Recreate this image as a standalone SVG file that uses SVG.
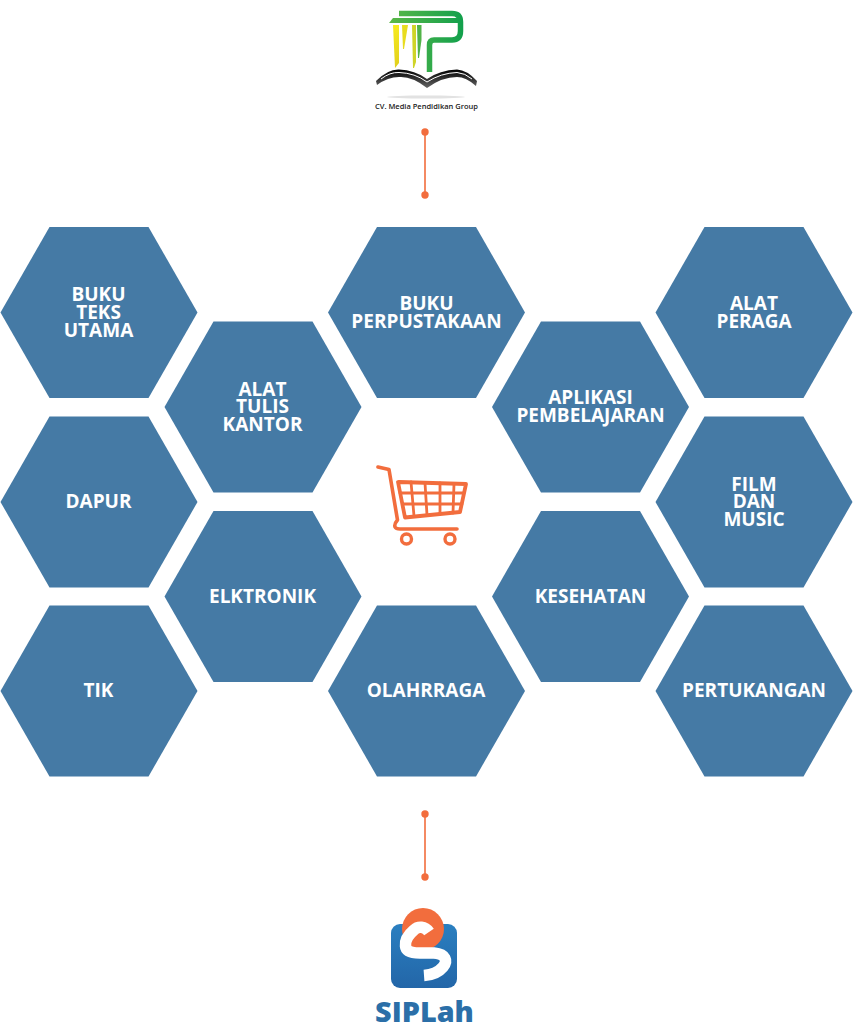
<svg xmlns="http://www.w3.org/2000/svg" width="853" height="1024" viewBox="0 0 853 1024">
<style>
.hex{fill:#457aa5}
.t{font-family:"Open Sans",sans-serif;font-weight:700;font-size:19px;fill:#fff;text-anchor:middle}
.c{stroke:#f26d3d;stroke-width:1.6;fill:#f26d3d}
.o{fill:none;stroke:#f26d3d;stroke-linecap:round;stroke-linejoin:round}
</style>
<defs>
<polygon id="h" points="-98.500,0 -49.500,-85.500 49.500,-85.500 98.500,0 49.500,85.500 -49.500,85.500"/>
<linearGradient id="bl" x1="0" y1="0" x2="0" y2="1"><stop offset="0" stop-color="#2a7fc0"/><stop offset="1" stop-color="#2366a8"/></linearGradient>
<linearGradient id="yl" x1="0" y1="0" x2="0" y2="1"><stop offset="0" stop-color="#f7ea1e"/><stop offset="1" stop-color="#e0cf1c"/></linearGradient>
<linearGradient id="gr" gradientUnits="userSpaceOnUse" x1="389" y1="0" x2="463" y2="0"><stop offset="0" stop-color="#5cb848"/><stop offset="1" stop-color="#12a04c"/></linearGradient>
<linearGradient id="bk" x1="0" y1="0" x2="0" y2="1"><stop offset="0" stop-color="#000"/><stop offset="1" stop-color="#666"/></linearGradient>
</defs>
<g id="logo-media">
<path d="M399 13.500 H452 Q460.500 13.500 460.500 22 V31 Q460.500 40 452 40 H434 Q429.500 40 429.500 45 V72" fill="none" stroke="url(#gr)" stroke-width="5.500"/>
<polygon points="389,23 393,18 458,18 458,23" fill="url(#gr)"/>
<path d="M393 25 H399 V63 L395 68 Z" fill="url(#yl)"/>
<path d="M402 25 H408 L404 49 H403 Z" fill="#e8dc1f"/>
<path d="M412 25 H416 V62 L414 68 H413 Z" fill="#cfd428"/>
<path d="M417 25 H421.500 V40 L419 58 H418 Z" fill="#52b348"/>
<path d="M376 81 Q388 69 399 69.500 Q415 70 427 79 Q440 70 457 69.500 Q467 70 477 81 L476 86 Q466 77 457 77 Q442 77 427 88 Q412 76 399 77 Q388 77 377 85 Z" fill="url(#bk)"/>
<path d="M381 79 Q390 72 399 72.500 Q415 73 427 82 Q441 73 457 72.500 Q465 73 472 79" fill="none" stroke="#fff" stroke-width="1"/>
<ellipse cx="426" cy="97" rx="39" ry="1.500" fill="#e2e2e2"/>
<text x="426.500" y="108.500" font-family="'Open Sans',sans-serif" font-size="7.500" font-weight="600" fill="#222" text-anchor="middle">CV. Media Pendidikan Group</text>
</g>
<g id="connectors">
<line class="c" x1="425" y1="132" x2="425" y2="195"/><circle cx="425" cy="132" r="3.700" fill="#f26d3d"/><circle cx="425" cy="195" r="3.700" fill="#f26d3d"/>
<line class="c" x1="425" y1="814" x2="425" y2="877"/><circle cx="425" cy="814" r="3.700" fill="#f26d3d"/><circle cx="425" cy="877" r="3.700" fill="#f26d3d"/>
</g>
<g id="n1"><use href="#h" class="hex" x="99" y="312.500"/><text class="t" x="98.500" y="300.500">BUKU</text><text class="t" x="98.500" y="318.500">TEKS</text><text class="t" x="98.500" y="336.500">UTAMA</text></g>
<g id="n2"><use href="#h" class="hex" x="263" y="407"/><text class="t" x="262.500" y="395.500">ALAT</text><text class="t" x="262.500" y="413">TULIS</text><text class="t" x="262.500" y="431">KANTOR</text></g>
<g id="n3"><use href="#h" class="hex" x="426.500" y="312.500"/><text class="t" x="426.500" y="309.500">BUKU</text><text class="t" x="426.500" y="327.500">PERPUSTAKAAN</text></g>
<g id="n4"><use href="#h" class="hex" x="590.500" y="407"/><text class="t" x="590.500" y="404">APLIKASI</text><text class="t" x="590.500" y="422">PEMBELAJARAN</text></g>
<g id="n5"><use href="#h" class="hex" x="754" y="312.500"/><text class="t" x="754" y="309.500">ALAT</text><text class="t" x="754" y="327.500">PERAGA</text></g>
<g id="n6"><use href="#h" class="hex" x="99" y="502"/><text class="t" x="98.500" y="508">DAPUR</text></g>
<g id="n7"><use href="#h" class="hex" x="263" y="596.500"/><text class="t" x="262.500" y="602.500">ELKTRONIK</text></g>
<g id="n8"><use href="#h" class="hex" x="590.500" y="596.500"/><text class="t" x="590.500" y="602.500">KESEHATAN</text></g>
<g id="n9"><use href="#h" class="hex" x="754" y="502"/><text class="t" x="754" y="490.500">FILM</text><text class="t" x="754" y="508">DAN</text><text class="t" x="754" y="525.500">MUSIC</text></g>
<g id="n10"><use href="#h" class="hex" x="99" y="691"/><text class="t" x="98.500" y="697">TIK</text></g>
<g id="n11"><use href="#h" class="hex" x="426.500" y="691"/><text class="t" x="426" y="697">OLAHRRAGA</text></g>
<g id="n12"><use href="#h" class="hex" x="754" y="691"/><text class="t" x="754" y="697">PERTUKANGAN</text></g>
<g id="cart">
<path class="o" stroke-width="3.600" d="M378 467 L389 469.500 L397.500 520 Q394 524 395 527 Q396 529 400 529 H457"/>
<path class="o" stroke-width="3.800" d="M399 482 L466 484 L460 512 L405 517.500 L398 482"/>
<path class="o" stroke-width="2.800" d="M400 493 H464 M403 504 H462 M411 482 L414 516 M425 483 L427 515 M440 483 L440 514 M454 484 L453 513"/>
<circle cx="406.500" cy="539" r="5" class="o" stroke-width="3.400"/>
<circle cx="450" cy="539" r="5" class="o" stroke-width="3.400"/>
</g>
<g id="logo-siplah">
<rect x="391" y="924" width="66" height="64" rx="9" fill="url(#bl)"/>
<circle cx="423" cy="929" r="21" fill="#f26d3d"/>
<path d="M429 932 C425 926 418 926 414 930 C408 935 405 941 405.500 946 C406 952 412 953 420 953 L434 953 C446 954 448 961 443 967 C438 973 431 975 424 975.500" fill="none" stroke="#fff" stroke-width="11.500"/>
<text x="424.500" y="1021.500" font-family="'Open Sans',sans-serif" font-size="28.800" font-weight="800" fill="#2b6fa8" text-anchor="middle">SIPLah</text>
</g>
</svg>
